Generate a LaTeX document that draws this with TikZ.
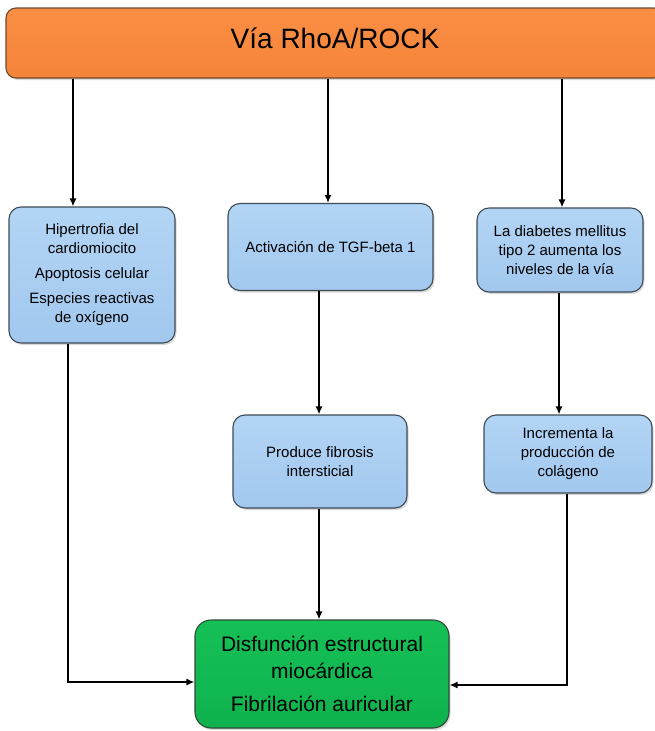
\documentclass[tikz,border=0pt]{standalone}
\usepackage{fontspec}
\setmainfont{Liberation Sans}
\usetikzlibrary{shadows,arrows.meta}

\definecolor{bluetop}{HTML}{B3D5F5}
\definecolor{bluebot}{HTML}{A2C8EF}
\definecolor{blueedge}{HTML}{3E4A56}
\definecolor{orangetop}{HTML}{FA8F44}
\definecolor{orangebot}{HTML}{F5843A}
\definecolor{orangeedge}{HTML}{6B4A30}
\definecolor{greentop}{HTML}{16C056}
\definecolor{greenbot}{HTML}{0FB24E}
\definecolor{greenedge}{HTML}{2D4A36}

\begin{document}
\begin{tikzpicture}[x=1pt,y=-1pt,
  softshadow/.style={drop shadow={shadow xshift=1.5pt,shadow yshift=-2pt,opacity=0.3}},
  flowbox/.style={draw=blueedge,line width=1.1pt,rounded corners=12pt,
    top color=bluetop,bottom color=bluebot,softshadow,
    inner sep=0pt,align=center,font=\fontsize{15}{19}\selectfont},
  headbar/.style={draw=orangeedge,line width=1.1pt,rounded corners=10pt,
    top color=orangetop,bottom color=orangebot,softshadow,
    inner sep=0pt,font=\fontsize{28}{32}\selectfont,text depth=10pt},
  outcome/.style={draw=greenedge,line width=1.1pt,rounded corners=16pt,
    top color=greentop,bottom color=greenbot,softshadow,
    inner sep=0pt,align=center,font=\fontsize{21}{27}\selectfont},
  link/.style={line width=1.5pt,-{Latex[length=8pt,width=7pt]}}
]
\useasboundingbox (0,0) rectangle (655,731);

% pathway header
\node[headbar,minimum width=658pt,minimum height=70pt] (bar) at (335,43) {Vía RhoA/ROCK};

% intermediate effects
\node[flowbox,minimum width=166pt,minimum height=136pt] (hyper) at (92,275)
  {Hipertrofia del\\cardiomiocito\\[6pt]Apoptosis celular\\[6pt]Especies reactivas\\de oxígeno};
\node[flowbox,minimum width=205pt,minimum height=87pt] (tgf) at (330.5,247)
  {Activación de TGF-beta 1};
\node[flowbox,minimum width=166pt,minimum height=84pt] (dm) at (560,250)
  {La diabetes mellitus\\tipo 2 aumenta los\\niveles de la vía};
\node[flowbox,minimum width=174pt,minimum height=93pt] (fibro) at (320,461.5)
  {Produce fibrosis\\intersticial};
\node[flowbox,minimum width=168pt,minimum height=78pt] (collagen) at (568,454)
  {Incrementa la\\producción de\\colágeno};

% final outcome
\node[outcome,minimum width=254pt,minimum height=108pt] (result) at (322,674)
  {Disfunción estructural\\miocárdica\\[6pt]Fibrilación auricular};

% connector columns and rows
\coordinate (xa) at (73,0);
\coordinate (xb) at (328,0);
\coordinate (xc) at (562,0);
\coordinate (xl) at (68,0);
\coordinate (xm) at (319,0);
\coordinate (xn) at (559,0);
\coordinate (xr) at (567,0);
\coordinate (yl) at (0,682);
\coordinate (yr) at (0,685);

\draw[link] (bar.south -| xa) -- (hyper.north -| xa);
\draw[link] (bar.south -| xb) -- (tgf.north -| xb);
\draw[link] (bar.south -| xc) -- (dm.north -| xc);
\draw[link] (tgf.south -| xm) -- (fibro.north -| xm);
\draw[link] (dm.south -| xn) -- (collagen.north -| xn);
\draw[link] (fibro.south -| xm) -- (result.north -| xm);
\draw[link] (hyper.south -| xl) |- (result.west |- yl);
\draw[link] (collagen.south -| xr) |- (result.east |- yr);
\end{tikzpicture}
\end{document}
